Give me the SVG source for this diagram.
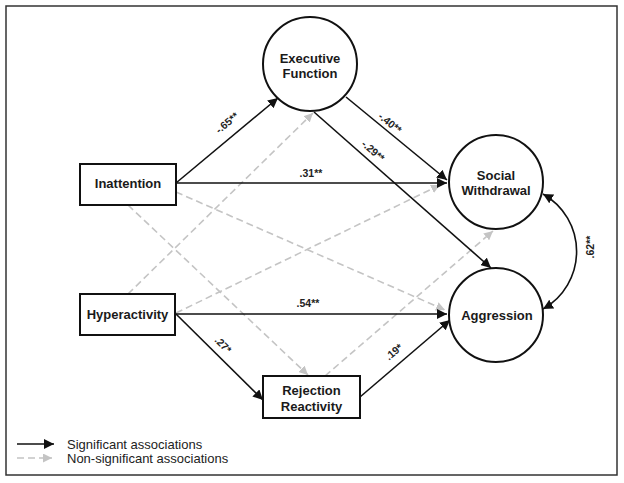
<svg xmlns="http://www.w3.org/2000/svg" width="624" height="483" viewBox="0 0 624 483">
<defs>
<style>
.node{fill:#fff;stroke:#111;stroke-width:2}
.nt{font-family:"Liberation Sans",Arial,sans-serif;font-size:13px;font-weight:bold;fill:#1a1a1a;text-anchor:middle}
.sig{fill:none;stroke:#111;stroke-width:1.6}
.ns{fill:none;stroke:#c4c4c4;stroke-width:1.6;stroke-dasharray:7 4}
.lbl{font-family:"Liberation Sans",Arial,sans-serif;font-size:10.5px;font-weight:bold;fill:#222;text-anchor:middle}
.leg{font-family:"Liberation Sans",Arial,sans-serif;font-size:13px;fill:#222}
</style>
<marker id="ah" viewBox="0 0 10 10" refX="10" refY="5" markerWidth="10" markerHeight="10" markerUnits="userSpaceOnUse" orient="auto-start-reverse">
<path d="M0,0 L10,5 L0,10 Z" fill="#111"/>
</marker>
<marker id="ahg" viewBox="0 0 10 10" refX="10" refY="5" markerWidth="9" markerHeight="9" markerUnits="userSpaceOnUse" orient="auto">
<path d="M0,0 L10,5 L0,10 Z" fill="#c4c4c4"/>
</marker>
</defs>
<rect x="6" y="6" width="611" height="469" fill="#fff" stroke="#333" stroke-width="1.5"/>
<g id="connectors">
<line class="ns" x1="128" y1="294" x2="313" y2="113" marker-end="url(#ahg)"/>
<line class="ns" x1="176" y1="192" x2="445" y2="310" marker-end="url(#ahg)"/>
<line class="ns" x1="128" y1="205" x2="308" y2="375" marker-end="url(#ahg)"/>
<line class="ns" x1="176" y1="313" x2="440" y2="185" marker-end="url(#ahg)"/>
<line class="ns" x1="325" y1="376" x2="493" y2="231" marker-end="url(#ahg)"/>
<line class="sig" x1="176" y1="183" x2="278" y2="98" marker-end="url(#ah)"/>
<line class="sig" x1="176" y1="183" x2="447" y2="183" marker-end="url(#ah)"/>
<line class="sig" x1="346" y1="97" x2="447" y2="180" marker-end="url(#ah)"/>
<line class="sig" x1="314" y1="112" x2="491" y2="268" marker-end="url(#ah)"/>
<line class="sig" x1="176" y1="314" x2="447" y2="314" marker-end="url(#ah)"/>
<line class="sig" x1="176" y1="314" x2="263" y2="400" marker-end="url(#ah)"/>
<line class="sig" x1="360" y1="397" x2="450" y2="320" marker-end="url(#ah)"/>
<path class="sig" d="M543,194 A66,66 0 0,1 543,309" marker-start="url(#ah)" marker-end="url(#ah)"/>
<text class="lbl" transform="translate(227,123) rotate(-40)" dy="3.5">-.65**</text>
<text class="lbl" x="311" y="176.5">.31**</text>
<text class="lbl" transform="translate(390,123) rotate(39)" dy="3.5">-.40**</text>
<text class="lbl" transform="translate(373,151) rotate(41)" dy="3.5">-.29**</text>
<text class="lbl" x="308" y="306.5">.54**</text>
<text class="lbl" transform="translate(223,345) rotate(45)" dy="3.5">.27*</text>
<text class="lbl" transform="translate(394,352) rotate(-40)" dy="3.5">.19*</text>
<text class="lbl" transform="translate(590,247) rotate(-90)" dy="3.5">.62**</text>
</g>
<g id="executive-function">
<circle class="node" cx="310" cy="64" r="47"/>
<text class="nt" x="310" y="62.5">Executive</text>
<text class="nt" x="310" y="77.5">Function</text>
</g>
<g id="inattention">
<rect class="node" x="80" y="164" width="96" height="41"/>
<text class="nt" x="128" y="188">Inattention</text>
</g>
<g id="hyperactivity">
<rect class="node" x="80" y="294" width="95" height="41"/>
<text class="nt" x="127.5" y="319">Hyperactivity</text>
</g>
<g id="social-withdrawal">
<circle class="node" cx="496" cy="182" r="47"/>
<text class="nt" x="496" y="179.5">Social</text>
<text class="nt" x="496" y="195">Withdrawal</text>
</g>
<g id="aggression">
<circle class="node" cx="496" cy="315" r="47"/>
<text class="nt" x="497" y="319.5">Aggression</text>
</g>
<g id="rejection-reactivity">
<rect class="node" x="263" y="376" width="97" height="42"/>
<text class="nt" x="311.5" y="395">Rejection</text>
<text class="nt" x="311.5" y="411">Reactivity</text>
</g>
<g id="legend">
<line x1="17" y1="444" x2="54" y2="444" stroke="#111" stroke-width="1.6" marker-end="url(#ah)"/>
<line x1="17" y1="458" x2="52" y2="458" stroke="#c4c4c4" stroke-width="1.6" stroke-dasharray="7 4" marker-end="url(#ahg)"/>
<text class="leg" x="67" y="448.5">Significant associations</text>
<text class="leg" x="67" y="463">Non-significant associations</text>
</g>
</svg>
